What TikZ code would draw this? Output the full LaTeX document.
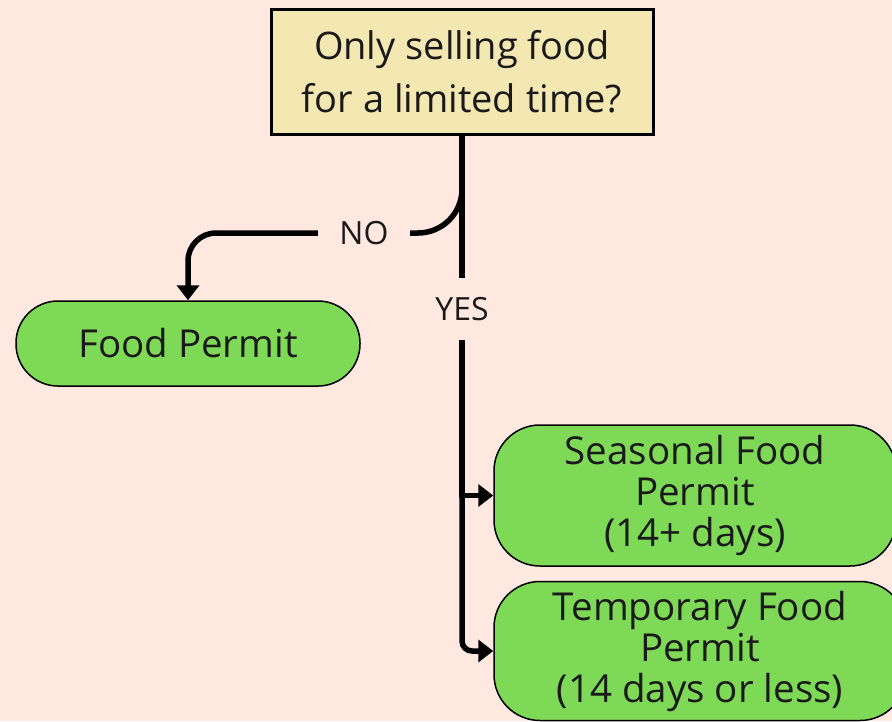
\documentclass[tikz,border=0pt]{standalone}
\usepackage{fontspec}
\setmainfont{Open Sans}
\usetikzlibrary{arrows.meta,positioning}
\definecolor{bgpeach}{HTML}{FFE8DF}
\definecolor{qyellow}{HTML}{F3E8B2}
\definecolor{permitgreen}{HTML}{7ED957}
\definecolor{inkdark}{HTML}{1A1A1A}

\begin{document}
\begin{tikzpicture}[x=1pt,y=-1pt,>={Triangle[width=22pt,length=15pt]},
 question/.style={draw=black,line width=3pt,fill=qyellow,minimum width=382pt,
  minimum height=125pt,align=center,text=inkdark,inner sep=0pt,
  font=\fontsize{38}{53}\selectfont},
 permit/.style={draw=black,line width=1.5pt,fill=permitgreen,rounded corners=42pt,
  align=center,text=inkdark,inner sep=0pt,font=\fontsize{38.5}{41}\selectfont},
 answer/.style={text=inkdark,inner sep=0pt,font=\fontsize{32}{34}\selectfont},
 conn/.style={line width=5.5pt}]
 \fill[bgpeach] (0,0) rectangle (892,721);
 \useasboundingbox (0,0) rectangle (892,721);

 \node[question] (q) at (462,71.5) {Only selling food\\for a limited time?};
 \node[permit,minimum width=344pt,minimum height=85pt] (food) at (188,343.5) {Food Permit};
 \node[permit,rounded corners=46pt,minimum width=402pt,minimum height=141pt]
  (seasonal) at (695,495.5) {Seasonal Food\\Permit\\(14+ days)};
 \node[permit,rounded corners=46pt,minimum width=412pt,minimum height=139pt]
  (temp) at (700,651) {Temporary Food\\Permit\\(14 days or less)};
 \node[answer,minimum width=92pt] (no) at (364,233) {NO};
 \node[answer,minimum height=62pt] (yes) at (462,309) {YES};
 \coordinate (split) at (462,188);

 \draw[conn] (q.south) -- (yes.north);
 \draw[conn,rounded corners=44pt] (split) |- (no.east);
 \draw[conn,->,rounded corners=28pt] (no.west) -| (food.north);
 \draw[conn,->] (yes.south) |- (seasonal.west);
 \draw[conn,->,rounded corners=10pt] (yes.south) |- (temp.west);
\end{tikzpicture}
\end{document}
